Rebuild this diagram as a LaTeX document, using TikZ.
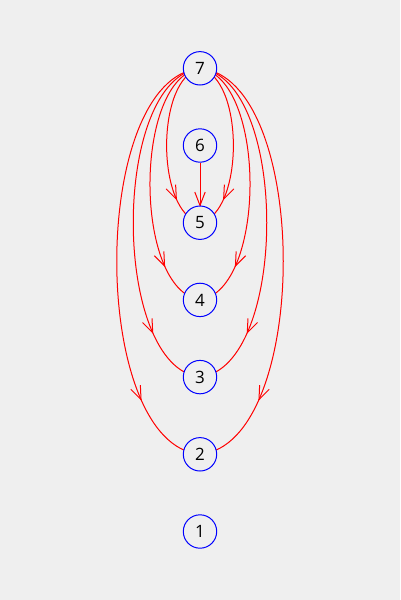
\documentclass[tikz,border=0pt]{standalone}
\usepackage{fontspec}
\setmainfont{Open Sans}
\usetikzlibrary{backgrounds}
\definecolor{bg}{RGB}{239,239,239}
\definecolor{edgered}{RGB}{255,0,0}
\definecolor{nodeblue}{RGB}{0,0,255}
\tikzset{
  vertex/.style={circle, draw=nodeblue, line width=1pt, fill=bg, minimum size=33.4pt, inner sep=0pt, font=\fontsize{17}{17}\selectfont},
  link/.style={draw=edgered, line width=1pt},
  barb/.pic={\draw[edgered, line width=1pt, line join=miter] (-13.5,5.2) -- (0,0) -- (-13.5,-5.2);},
  onarc/.style={pos=0.77, sloped, allow upside down},
}
\begin{document}
\begin{tikzpicture}[x=1pt,y=-1pt]
\useasboundingbox (0,0) rectangle (400,600);
\node[vertex] (n7) at (200,68.3) {7};
\node[vertex] (n6) at (200,145.5) {6};
\node[vertex] (n5) at (200,222.7) {5};
\node[vertex] (n4) at (200,299.9) {4};
\node[vertex] (n3) at (200,377.1) {3};
\node[vertex] (n2) at (200,454.3) {2};
\node[vertex] (n1) at (200,531.5) {1};
\begin{scope}[on background layer]
\fill[bg] (0,0) rectangle (400,600);
\path[link] (n7.center) .. controls +(-44.5,10) and +(-44.5,-10) .. (n5.center) pic[onarc]{barb};
\path[link] (n7.center) .. controls +(44.5,10) and +(44.5,-10) .. (n5.center) pic[onarc]{barb};
\path[link] (n7.center) .. controls +(-66.7,10) and +(-66.7,-10) .. (n4.center) pic[onarc]{barb};
\path[link] (n7.center) .. controls +(66.7,10) and +(66.7,-10) .. (n4.center) pic[onarc]{barb};
\path[link] (n7.center) .. controls +(-89,10) and +(-89,-10) .. (n3.center) pic[onarc]{barb};
\path[link] (n7.center) .. controls +(89,10) and +(89,-10) .. (n3.center) pic[onarc]{barb};
\path[link] (n7.center) .. controls +(-111,10) and +(-111,-10) .. (n2.center) pic[onarc]{barb};
\path[link] (n7.center) .. controls +(111,10) and +(111,-10) .. (n2.center) pic[onarc]{barb};
\path[link] (n6) -- (n5) pic[pos=1, sloped, allow upside down]{barb};
\end{scope}
\end{tikzpicture}
\end{document}
